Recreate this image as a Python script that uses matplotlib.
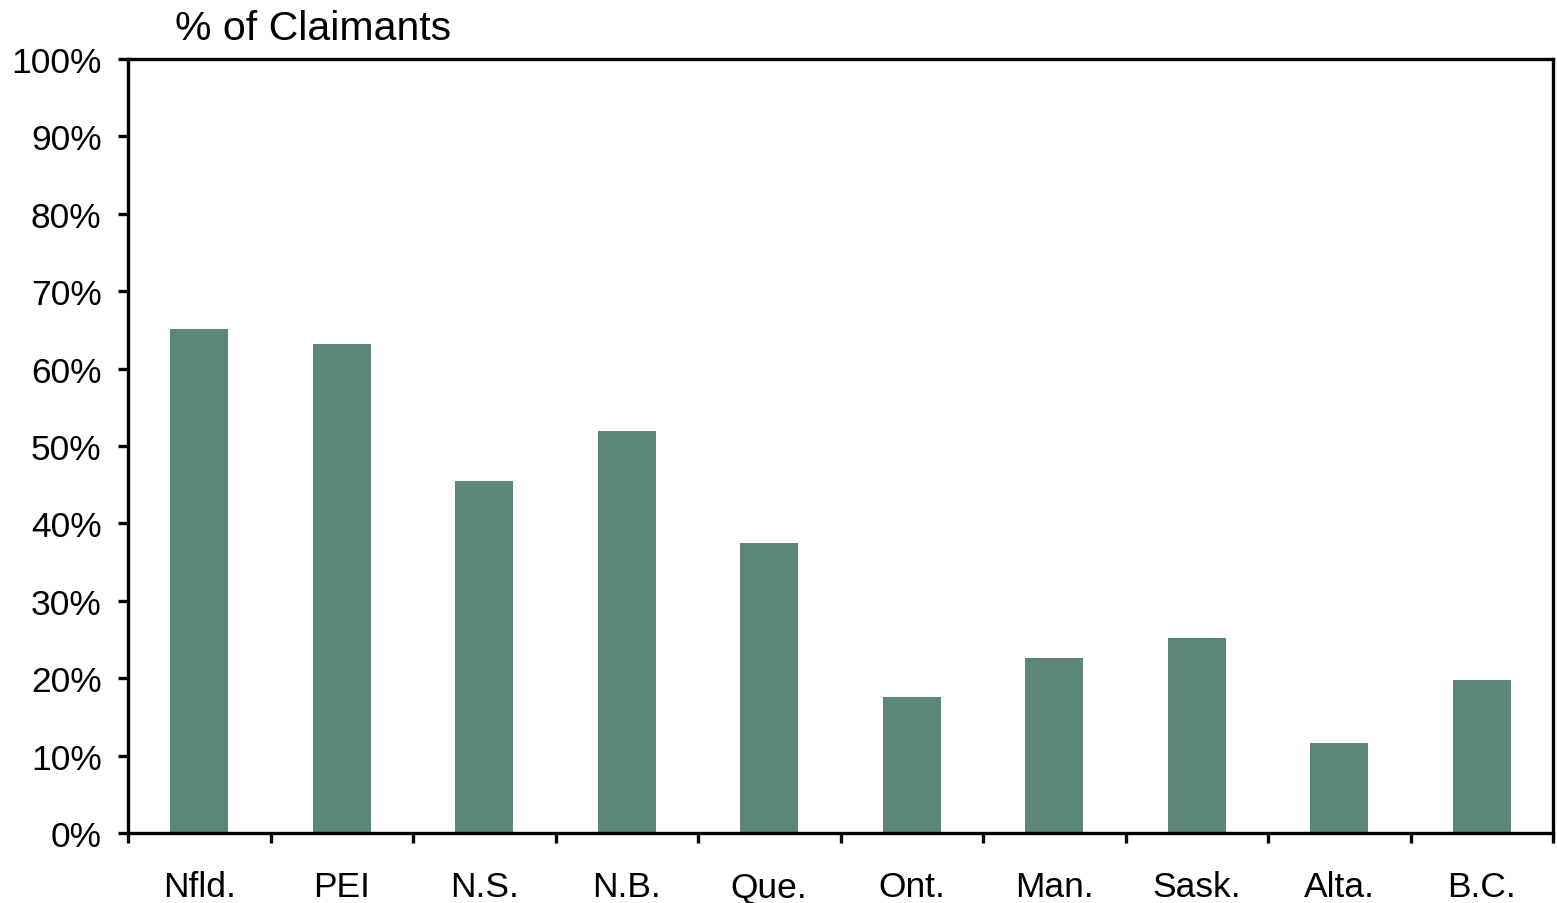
import matplotlib
matplotlib.use("Agg")
import matplotlib.pyplot as plt
import numpy as np
from matplotlib.ticker import FixedLocator, PercentFormatter

provinces = ["Nfld.", "PEI", "N.S.", "N.B.", "Que.", "Ont.", "Man.", "Sask.", "Alta.", "B.C."]
share = [65.1, 63.2, 45.5, 51.9, 37.5, 17.6, 22.6, 25.2, 11.6, 19.8]
yticks = [0, 10, 20, 30, 40, 50, 60, 70, 80, 90, 100]

plt.rcParams["font.family"] = ["Liberation Sans", "DejaVu Sans"]

fig = plt.figure(figsize=(15.57, 9.04), dpi=100)
ax = fig.add_axes([128 / 1557, 70 / 904, 1425 / 1557, 774 / 904])

x = np.arange(len(provinces))
ax.bar(x, share, width=0.41, color="#5B8777", zorder=2)

ax.set_xlim(-0.5, len(provinces) - 0.5)
ax.set_ylim(0, 100)
ax.set_yticks(yticks)
ax.yaxis.set_major_formatter(PercentFormatter(decimals=0))
ax.set_xticks(x)
ax.set_xticklabels(provinces)
# boundary ticks between provinces
ax.xaxis.set_minor_locator(FixedLocator(np.arange(-0.5, len(provinces), 1.0)))

for s in ax.spines.values():
    s.set_linewidth(2.4)
ax.tick_params(axis="y", which="major", direction="out", length=7, width=2.4,
               labelsize=25.5, pad=12)
ax.tick_params(axis="x", which="major", length=0, labelsize=25.5, pad=27)
ax.tick_params(axis="x", which="minor", direction="out", length=7, width=2.4)

fig.text(175 / 1557, 1 - 40 / 904, "% of Claimants", fontsize=29.5, va="baseline", ha="left")

fig.savefig("out.png", dpi=100)
